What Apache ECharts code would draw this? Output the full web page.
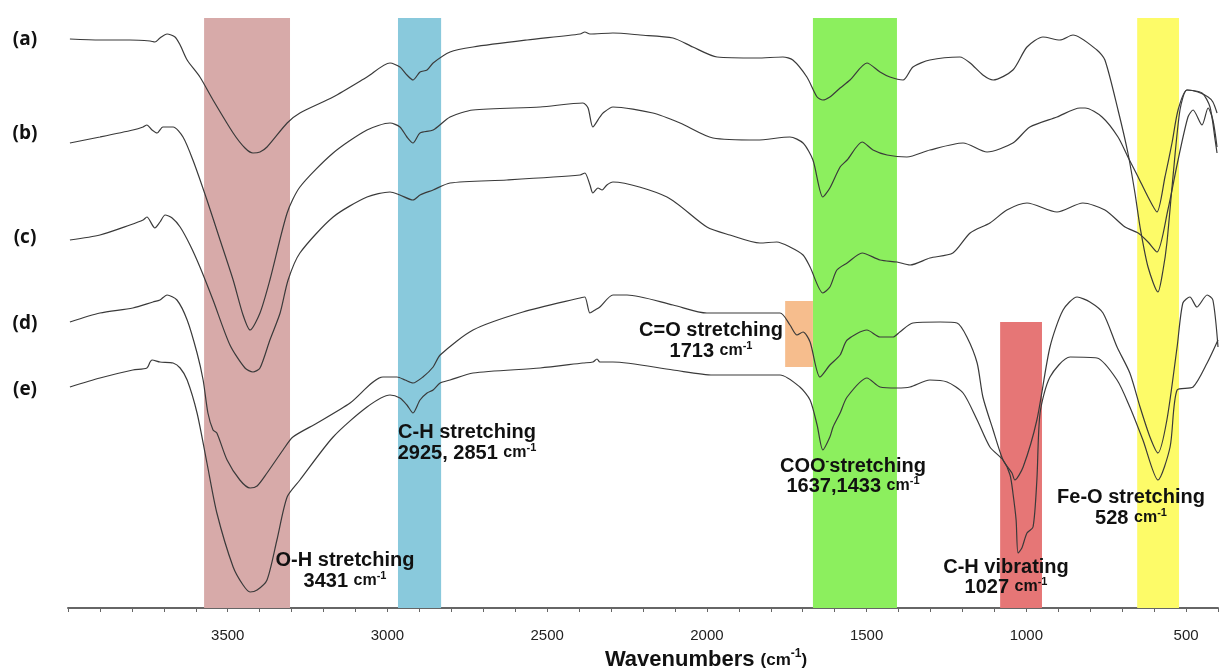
<!DOCTYPE html>
<html>
<head>
<meta charset="utf-8">
<title>FTIR spectra</title>
<script src="https://cdn.jsdelivr.net/npm/echarts@6/dist/echarts.min.js"></script>
<style>
  html, body { margin: 0; padding: 0; background: #fff; }
  #chart { width: 1222px; height: 671px; }
</style>
</head>
<body>
<div id="chart"></div>
<script>
// FTIR transmittance spectra (offset, arbitrary units) vs wavenumber (cm-1)
const sampleNames = ['(a)', '(b)', '(c)', '(d)', '(e)'];
const xTickLabels = [500, 1000, 1500, 2000, 2500, 3000, 3500];

const specA = [[3994,569],[3900,568],[3806,568],[3743,567],[3728,566],[3712,570],[3690,574],[3665,571],[3649,563],[3627,548],[3587,531],[3546,508],[3483,475],[3446,460],[3421,455],[3399,456],[3377,461],[3314,485],[3274,495],[3170,511],[3064,531],[2992,545],[2961,541],[2939,533],[2920,528],[2898,536],[2876,538],[2857,545],[2804,556],[2732,561],[2563,568],[2397,574],[2382,576],[2366,574],[2294,575],[2209,573],[2106,570],[2044,561],[1968,551],[1843,550],[1762,551],[1731,548],[1687,531],[1655,511],[1637,508],[1615,511],[1583,520],[1552,528],[1499,545],[1458,536],[1427,531],[1386,528],[1355,541],[1302,548],[1208,551],[1176,545],[1136,533],[1104,528],[1042,538],[998,561],[948,571],[895,568],[854,573],[779,558],[754,548],[713,498],[682,455],[660,415],[644,381],[619,341],[588,316],[572,338],[560,365],[541,431],[519,498],[497,518],[463,516],[431,511],[416,506],[403,495]];

const specB = [[3994,465],[3900,471],[3797,478],[3765,481],[3753,483],[3737,478],[3721,475],[3703,481],[3671,481],[3640,471],[3609,448],[3565,408],[3524,368],[3483,328],[3452,293],[3430,278],[3399,295],[3368,328],[3314,395],[3274,421],[3170,455],[3064,478],[2992,485],[2961,481],[2939,471],[2920,465],[2898,475],[2857,478],[2804,491],[2732,498],[2522,501],[2388,505],[2372,500],[2357,481],[2335,491],[2325,495],[2294,501],[2169,495],[2084,485],[1981,470],[1843,468],[1740,471],[1699,465],[1668,448],[1637,411],[1615,420],[1583,441],[1561,448],[1514,466],[1480,458],[1436,453],[1374,451],[1302,458],[1198,465],[1123,456],[1042,465],[989,481],[904,491],[832,500],[816,500],[763,491],[713,471],[682,451],[650,431],[619,411],[591,396],[566,431],[544,465],[525,498],[497,518],[450,515],[425,501],[409,468],[403,455]];

const specC = [[3994,368],[3900,373],[3806,383],[3765,388],[3753,391],[3728,380],[3712,386],[3696,393],[3674,390],[3649,381],[3618,363],[3587,341],[3546,308],[3493,263],[3446,240],[3421,236],[3399,240],[3368,268],[3336,295],[3311,328],[3274,355],[3170,391],[3064,411],[2992,416],[2961,413],[2920,408],[2898,413],[2857,418],[2804,425],[2626,428],[2397,433],[2382,435],[2366,423],[2357,415],[2341,420],[2328,418],[2313,423],[2294,426],[2125,411],[2000,381],[1928,373],[1834,365],[1781,366],[1740,361],[1699,353],[1677,341],[1637,315],[1615,321],[1593,338],[1561,345],[1514,355],[1458,348],[1405,346],[1364,343],[1302,350],[1230,355],[1176,375],[1114,385],[1061,398],[998,405],[904,396],[823,405],[754,398],[691,381],[650,375],[619,366],[591,356],[557,398],[525,448],[494,491],[478,498],[450,483],[431,500],[416,488],[403,461]];

const specD = [[3994,286],[3900,295],[3797,300],[3734,306],[3712,308],[3690,313],[3659,308],[3627,288],[3596,255],[3577,228],[3562,195],[3546,178],[3534,175],[3502,148],[3462,128],[3430,120],[3408,122],[3377,135],[3327,158],[3296,171],[3220,185],[3117,205],[3014,231],[2970,231],[2945,228],[2920,225],[2889,231],[2857,241],[2835,253],[2732,278],[2576,296],[2397,310],[2382,311],[2366,295],[2350,298],[2335,301],[2294,313],[2250,313],[2106,303],[2000,295],[1771,295],[1740,283],[1718,273],[1699,276],[1677,266],[1646,231],[1615,243],[1583,253],[1561,268],[1499,278],[1458,271],[1417,271],[1396,276],[1355,285],[1270,286],[1217,285],[1186,271],[1154,245],[1136,211],[1104,178],[1073,148],[1045,135],[1036,128],[1010,141],[967,188],[926,261],[885,298],[841,311],[801,306],[760,295],[716,261],[676,235],[644,201],[613,171],[588,155],[560,188],[528,261],[510,305],[488,311],[466,301],[434,313],[416,308],[400,261]];

const specE = [[3994,221],[3900,230],[3797,238],[3753,240],[3743,246],[3737,248],[3712,246],[3671,245],[3649,240],[3627,228],[3596,195],[3565,145],[3534,95],[3483,41],[3452,23],[3430,16],[3408,18],[3377,28],[3346,68],[3314,111],[3274,128],[3170,171],[3064,201],[2992,213],[2961,210],[2939,203],[2920,195],[2898,208],[2876,215],[2857,218],[2835,225],[2804,228],[2732,235],[2522,240],[2388,245],[2357,246],[2344,249],[2335,246],[2294,246],[2106,238],[1981,233],[1771,233],[1709,221],[1677,208],[1655,183],[1637,158],[1615,171],[1605,181],[1583,195],[1561,211],[1499,230],[1458,221],[1405,220],[1364,221],[1302,228],[1248,226],[1198,215],[1154,188],[1114,161],[1073,148],[1051,133],[1042,115],[1032,88],[1026,55],[1014,60],[998,75],[979,81],[967,128],[957,195],[926,231],[863,251],[779,250],[716,228],[676,201],[635,168],[588,128],[550,161],[528,218],[478,221],[434,245],[400,268]];

// Assigned absorption regions: [high cm-1, low cm-1, top, bottom]
const bandRanges = [
  [3574, 3305, 590, 0],  // O-H
  [2967, 2832, 590, 0],  // C-H stretching
  [1668, 1405, 590, 0],  // COO-
  [1755, 1668, 307, 241],// C=O
  [1082, 951, 286, 0],   // C-H vibrating
  [653, 522, 590, 0]     // Fe-O
];
const bandColors = ['#d7aaa9', '#89c9dc', '#8cef5e', '#f6bd8d', '#e67676', '#fdfb68'];

// Annotation texts: [title, wavenumber text]
const bandNotes = [
  ['O-H stretching', '3431'],
  ['C-H stretching', '2925, 2851'],
  ['C=O stretching', '1713'],
  ['COO{s|-}stretching', '1637,1433'],
  ['C-H vibrating', '1027'],
  ['Fe-O stretching', '528']
];

const FONT = '"Liberation Sans", Arial, sans-serif';
const noteLayout = [
  { x: 345, y1: 560, y2: 581 },
  { x: 467, y1: 432, y2: 453 },
  { x: 711, y1: 330, y2: 351 },
  { x: 853, y1: 466, y2: 486 },
  { x: 1006, y1: 567, y2: 587 },
  { x: 1131, y1: 497, y2: 518 }
];
const sampleLabelY = [40, 134, 238, 324, 390];

const richStyles = {
  h: { fontFamily: FONT, fontWeight: 'bold', fontSize: 20, lineHeight: 22, fill: '#111', color: '#111' },
  n: { fontFamily: FONT, fontWeight: 'bold', fontSize: 20, lineHeight: 22, fill: '#111', color: '#111' },
  c: { fontFamily: FONT, fontWeight: 'bold', fontSize: 16, lineHeight: 22, fill: '#111', color: '#111' },
  s: { fontFamily: FONT, fontWeight: 'bold', fontSize: 11, lineHeight: 12, verticalAlign: 'top', fill: '#111', color: '#111' }
};

const graphics = [];
bandNotes.forEach(function (note, i) {
  const L = noteLayout[i];
  graphics.push({
    type: 'text', x: L.x, y: L.y1, z: 20,
    style: { text: '{h|' + note[0].replace('{s|-}', '}{s|-}{h|') + '}', rich: richStyles, align: 'center', verticalAlign: 'middle' }
  });
  graphics.push({
    type: 'text', x: L.x, y: L.y2, z: 20,
    style: { text: '{n|' + note[1] + ' }{c|cm}{s|-1}', rich: richStyles, align: 'center', verticalAlign: 'middle' }
  });
});
sampleNames.forEach(function (name, i) {
  graphics.push({
    type: 'text', x: 25, y: sampleLabelY[i], z: 20,
    style: { text: name, fill: '#111', font: 'bold 19px "Open Sans", "DejaVu Sans", sans-serif', align: 'center', verticalAlign: 'middle' }
  });
});
graphics.push({
  type: 'text', x: 706, y: 660, z: 20,
  style: {
    text: '{t|Wavenumbers }{u|(cm}{s|-1}{u|)}',
    align: 'center', verticalAlign: 'middle',
    rich: {
      t: { fontFamily: FONT, fontWeight: 'bold', fontSize: 22, lineHeight: 24, fill: '#111', color: '#111' },
      u: { fontFamily: FONT, fontWeight: 'bold', fontSize: 17, lineHeight: 24, fill: '#111', color: '#111' },
      s: { fontFamily: FONT, fontWeight: 'bold', fontSize: 12, lineHeight: 13, verticalAlign: 'top', fill: '#111', color: '#111' }
    }
  }
});

const spectra = [specA, specB, specC, specD, specE];
const series = spectra.map(function (data, i) {
  return {
    name: sampleNames[i],
    type: 'line',
    data: data,
    showSymbol: false,
    smooth: 0.25,
    z: 5,
    lineStyle: { color: '#3a3a3a', width: 1.2 },
    animation: false
  };
});
series.push({
  type: 'line',
  data: [],
  z: 1,
  silent: true,
  markArea: {
    silent: true,
    data: bandRanges.map(function (b, i) {
      return [
        { xAxis: b[0], yAxis: b[2], itemStyle: { color: bandColors[i], opacity: 1 } },
        { xAxis: b[1], yAxis: b[3] }
      ];
    })
  }
});

const chart = echarts.init(document.getElementById('chart'), null, { renderer: 'canvas' });
chart.setOption({
  animation: false,
  backgroundColor: '#fff',
  grid: { left: 68, right: 4, top: 8, bottom: 63 },
  xAxis: {
    type: 'value',
    inverse: true,
    min: 400,
    max: 4000,
    interval: 100,
    axisLine: { onZero: false, lineStyle: { color: '#666', width: 2 } },
    axisTick: { show: true, length: 4, lineStyle: { color: '#666', width: 1 } },
    splitLine: { show: false },
    axisLabel: {
      margin: 20,
      color: '#222',
      fontSize: 15,
      fontFamily: FONT,
      formatter: function (v) { return xTickLabels.indexOf(v) >= 0 ? String(v) : ''; }
    }
  },
  yAxis: {
    type: 'value',
    min: 0,
    max: 600,
    show: false
  },
  series: series,
  graphic: graphics
});
</script>
</body>
</html>
